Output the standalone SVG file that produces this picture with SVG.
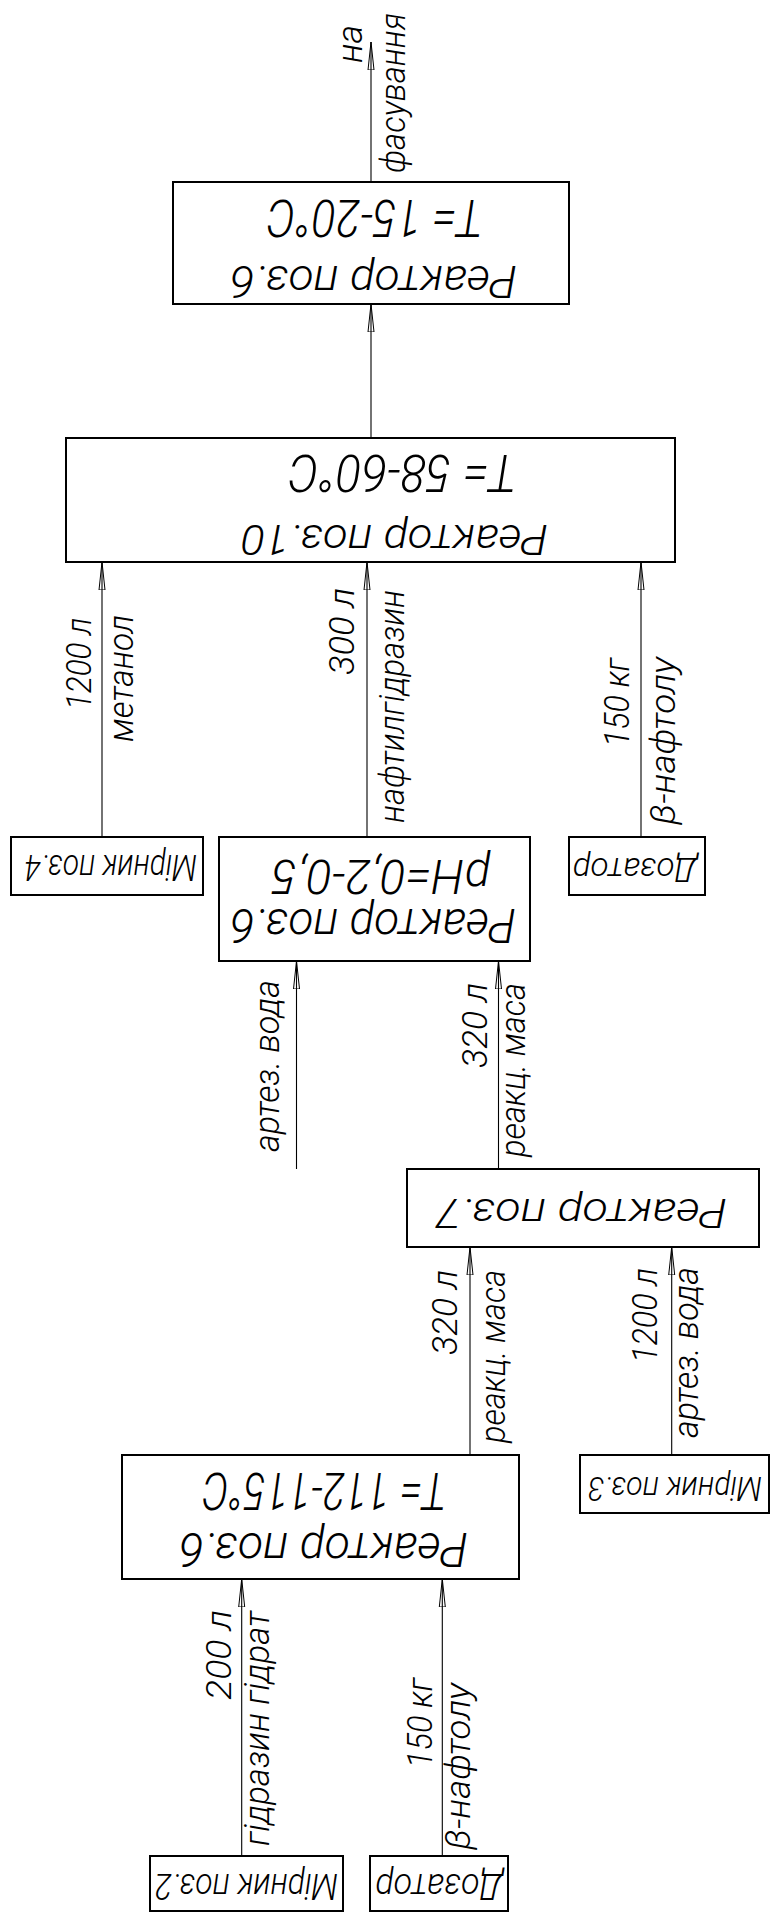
<svg xmlns="http://www.w3.org/2000/svg" width="771" height="1912" viewBox="0 0 771 1912">
<style>
.box{fill:#fff;stroke:#000;stroke-width:2}
.ln{stroke:#000;stroke-width:1.1;fill:none;marker-end:url(#ah)}
.t{font-family:Roboto,"Liberation Sans",sans-serif;font-style:italic;font-weight:300;fill:#000}
.v{font-size:35px}
</style>
<defs>
<marker id="ah" markerUnits="userSpaceOnUse" viewBox="0 0 28 8" refX="28" refY="4" markerWidth="28" markerHeight="8" orient="auto">
<path d="M0,1 L28,4 L0,7 Z" fill="none" stroke="#000" stroke-width="1"/>
</marker>
</defs>
<rect width="771" height="1912" fill="#fff"/>

<g id="connectors">
<path class="ln" d="M371,182 V42"/>
<path class="ln" d="M371,438 V304"/>
<path class="ln" d="M102,837 V562"/>
<path class="ln" d="M367,837 V562"/>
<path class="ln" d="M641,837 V562"/>
<path class="ln" d="M296.5,1169 V961"/>
<path class="ln" d="M498.5,1169 V961"/>
<path class="ln" d="M470,1455 V1247"/>
<path class="ln" d="M671.7,1455 V1247"/>
<path class="ln" d="M241.7,1856 V1579"/>
<path class="ln" d="M442.3,1856 V1579"/>
</g>

<g id="labels" class="t v">
<text x="362" y="63" transform="rotate(-90 362 63)" textLength="38" lengthAdjust="spacingAndGlyphs">на</text>
<text x="405" y="173" transform="rotate(-90 405 173)" textLength="160" lengthAdjust="spacingAndGlyphs">фасування</text>
<text x="91" y="710" transform="rotate(-90 91 710)" textLength="92" lengthAdjust="spacingAndGlyphs">1200 л</text>
<text x="133" y="742" transform="rotate(-90 133 742)" textLength="127" lengthAdjust="spacingAndGlyphs">метанол</text>
<text x="354" y="675" transform="rotate(-90 354 675)" textLength="87" lengthAdjust="spacingAndGlyphs">300 л</text>
<text x="404" y="823" transform="rotate(-90 404 823)" textLength="233" lengthAdjust="spacingAndGlyphs">нафтилгідразин</text>
<text x="629" y="747" transform="rotate(-90 629 747)" textLength="89" lengthAdjust="spacingAndGlyphs">150 кг</text>
<text x="675" y="825" transform="rotate(-90 675 825)" textLength="168" lengthAdjust="spacingAndGlyphs">β-нафтолу</text>
<text x="279" y="1152" transform="rotate(-90 279 1152)" textLength="172" lengthAdjust="spacingAndGlyphs">артез. вода</text>
<text x="487" y="1068" transform="rotate(-90 487 1068)" textLength="85" lengthAdjust="spacingAndGlyphs">320 л</text>
<text x="525" y="1157" transform="rotate(-90 525 1157)" textLength="174" lengthAdjust="spacingAndGlyphs">реакц. маса</text>
<text x="457" y="1355" transform="rotate(-90 457 1355)" textLength="85" lengthAdjust="spacingAndGlyphs">320 л</text>
<text x="505" y="1443" transform="rotate(-90 505 1443)" textLength="173" lengthAdjust="spacingAndGlyphs">реакц. маса</text>
<text x="657" y="1363" transform="rotate(-90 657 1363)" textLength="95" lengthAdjust="spacingAndGlyphs">1200 л</text>
<text x="698" y="1438" transform="rotate(-90 698 1438)" textLength="171" lengthAdjust="spacingAndGlyphs">артез. вода</text>
<text x="231" y="1700" transform="rotate(-90 231 1700)" textLength="90" lengthAdjust="spacingAndGlyphs">200 л</text>
<text x="269" y="1846" transform="rotate(-90 269 1846)" textLength="235" lengthAdjust="spacingAndGlyphs">гідразин гідрат</text>
<text x="432" y="1768" transform="rotate(-90 432 1768)" textLength="90" lengthAdjust="spacingAndGlyphs">150 кг</text>
<text x="470" y="1850" transform="rotate(-90 470 1850)" textLength="167" lengthAdjust="spacingAndGlyphs">β-нафтолу</text>
</g>

<g id="reactor6_top">
<rect class="box" x="173" y="182" width="396" height="122"/>
<text class="t" x="375" y="200" font-size="51" text-anchor="middle" textLength="216" lengthAdjust="spacingAndGlyphs" transform="rotate(180 375 200)">T= 15-20°C</text>
<text class="t" x="373.5" y="266" font-size="44" text-anchor="middle" textLength="287" lengthAdjust="spacingAndGlyphs" transform="rotate(180 373.5 266)">Реактор поз.6</text>
</g>

<g id="reactor10">
<rect class="box" x="66" y="438" width="609" height="124"/>
<text class="t" x="402.7" y="455" font-size="51" text-anchor="middle" textLength="228" lengthAdjust="spacingAndGlyphs" transform="rotate(180 402.7 455)">T= 58-60°C</text>
<text class="t" x="394.5" y="525" font-size="42" text-anchor="middle" textLength="307" lengthAdjust="spacingAndGlyphs" transform="rotate(180 394.5 525)">Реактор поз.10</text>
</g>

<g id="mirnyk4">
<rect class="box" x="11" y="837" width="192" height="58"/>
<text class="t" x="111" y="855" font-size="36" text-anchor="middle" textLength="172" lengthAdjust="spacingAndGlyphs" transform="rotate(180 111 855)">Мірник поз.4</text>
</g>

<g id="reactor6_ph">
<rect class="box" x="219" y="837" width="311" height="124"/>
<text class="t" x="381" y="860" font-size="48" text-anchor="middle" textLength="218" lengthAdjust="spacingAndGlyphs" transform="rotate(180 381 860)">pH=0,2-0,5</text>
<text class="t" x="373" y="909" font-size="48" text-anchor="middle" textLength="286" lengthAdjust="spacingAndGlyphs" transform="rotate(180 373 909)">Реактор поз.6</text>
</g>

<g id="dozator1">
<rect class="box" x="569" y="837" width="136" height="58"/>
<text class="t" x="635" y="858" font-size="34" text-anchor="middle" textLength="125" lengthAdjust="spacingAndGlyphs" transform="rotate(180 635 858)">Дозатор</text>
</g>

<g id="reactor7">
<rect class="box" x="407" y="1169" width="352" height="78"/>
<text class="t" x="581.5" y="1199" font-size="41" text-anchor="middle" textLength="291" lengthAdjust="spacingAndGlyphs" transform="rotate(180 581.5 1199)">Реактор поз.7</text>
</g>

<g id="reactor6_bottom">
<rect class="box" x="122" y="1455" width="397" height="124"/>
<text class="t" x="324.6" y="1473" font-size="52" text-anchor="middle" textLength="244" lengthAdjust="spacingAndGlyphs" transform="rotate(180 324.6 1473)">T= 112-115°C</text>
<text class="t" x="323.5" y="1533" font-size="48" text-anchor="middle" textLength="289" lengthAdjust="spacingAndGlyphs" transform="rotate(180 323.5 1533)">Реактор поз.6</text>
</g>

<g id="mirnyk3">
<rect class="box" x="580" y="1455" width="189" height="58"/>
<text class="t" x="675" y="1477" font-size="34" text-anchor="middle" textLength="174" lengthAdjust="spacingAndGlyphs" transform="rotate(180 675 1477)">Мірник поз.3</text>
</g>

<g id="mirnyk2">
<rect class="box" x="150" y="1856" width="193" height="55"/>
<text class="t" x="246.5" y="1874" font-size="36" text-anchor="middle" textLength="183" lengthAdjust="spacingAndGlyphs" transform="rotate(180 246.5 1874)">Мірник поз.2</text>
</g>

<g id="dozator2">
<rect class="box" x="370" y="1856" width="138" height="55"/>
<text class="t" x="439" y="1874" font-size="36" text-anchor="middle" textLength="128" lengthAdjust="spacingAndGlyphs" transform="rotate(180 439 1874)">Дозатор</text>
</g>
</svg>
